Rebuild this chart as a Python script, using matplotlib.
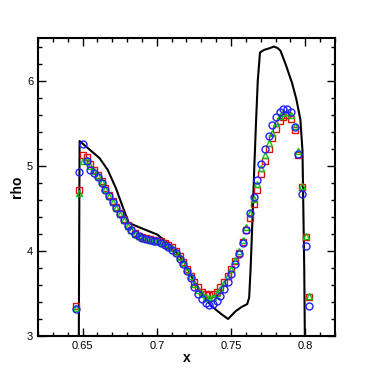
import numpy as np
import matplotlib
matplotlib.use("Agg")
import matplotlib.pyplot as plt
from matplotlib.ticker import MultipleLocator

plt.rcParams['font.family'] = ['Liberation Sans', 'DejaVu Sans']

# reference solution (solid black line)
ref_x = [0.6475, 0.6477, 0.6480, 0.6500, 0.6547, 0.6614, 0.6670, 0.6726, 0.6770,
         0.6810, 0.6850, 0.6905, 0.7005, 0.7073, 0.7140, 0.7185, 0.7252, 0.7319,
         0.7364, 0.7397, 0.7440, 0.7480, 0.7530, 0.7570, 0.7609, 0.7622, 0.7632,
         0.7645, 0.7657, 0.7668, 0.7680, 0.7695, 0.7722, 0.7760, 0.7789, 0.7815,
         0.7833, 0.7870, 0.7911, 0.7940, 0.7967, 0.7981, 0.7993, 0.7997]
ref_rho = [3.00, 4.00, 5.29, 5.26, 5.19, 5.09, 4.95, 4.73, 4.52,
           4.33, 4.30, 4.26, 4.19, 4.09, 3.97, 3.87, 3.64, 3.46,
           3.36, 3.31, 3.25, 3.20, 3.29, 3.34, 3.375, 3.45, 3.80,
           4.40, 5.00, 5.50, 6.00, 6.33, 6.36, 6.38, 6.40, 6.38,
           6.35, 6.18, 5.97, 5.78, 5.54, 5.18, 3.78, 3.00]

# cell centres of the computed solutions
x = [0.6453, 0.6478, 0.6503, 0.6528, 0.6553, 0.6578, 0.6603, 0.6628, 0.6653, 0.6678,
     0.6703, 0.6728, 0.6753, 0.6778, 0.6803, 0.6828, 0.6853, 0.6878, 0.6903, 0.6928,
     0.6953, 0.6978, 0.7003, 0.7028, 0.7053, 0.7078, 0.7103, 0.7128, 0.7153, 0.7178,
     0.7203, 0.7228, 0.7253, 0.7278, 0.7303, 0.7328, 0.7353, 0.7378, 0.7403, 0.7428,
     0.7453, 0.7478, 0.7503, 0.7528, 0.7553, 0.7578, 0.7603, 0.7628, 0.7653, 0.7678,
     0.7703, 0.7728, 0.7753, 0.7778, 0.7803, 0.7828, 0.7853, 0.7878, 0.7903, 0.7928,
     0.7953, 0.7978, 0.8003, 0.8028]

rho_sq = [3.35, 4.72, 5.12, 5.10, 5.02, 4.95, 4.89, 4.82, 4.74, 4.66,
          4.58, 4.51, 4.44, 4.37, 4.30, 4.25, 4.21, 4.18, 4.16, 4.15,
          4.14, 4.13, 4.12, 4.11, 4.09, 4.07, 4.04, 4.00, 3.94, 3.87,
          3.79, 3.71, 3.63, 3.57, 3.52, 3.49, 3.48, 3.49, 3.52, 3.57,
          3.63, 3.71, 3.79, 3.88, 3.98, 4.10, 4.24, 4.39, 4.55, 4.72,
          4.90, 5.06, 5.20, 5.32, 5.43, 5.52, 5.57, 5.59, 5.55, 5.42,
          5.12, 4.75, 4.16, 3.46]

rho_tri = [3.33, 4.68, 5.06, 5.07, 5.00, 4.94, 4.88, 4.81, 4.73, 4.65,
           4.57, 4.50, 4.43, 4.36, 4.29, 4.24, 4.20, 4.17, 4.15, 4.14,
           4.13, 4.12, 4.11, 4.10, 4.08, 4.06, 4.03, 3.99, 3.93, 3.86,
           3.78, 3.70, 3.61, 3.54, 3.49, 3.46, 3.45, 3.46, 3.50, 3.55,
           3.62, 3.70, 3.79, 3.89, 4.00, 4.13, 4.28, 4.44, 4.61, 4.79,
           4.97, 5.13, 5.27, 5.39, 5.50, 5.58, 5.62, 5.63, 5.59, 5.47,
           5.17, 4.76, 4.17, 3.47]

rho_circ = [3.32, 4.93, 5.25, 5.05, 4.95, 4.91, 4.87, 4.80, 4.72, 4.65,
            4.57, 4.50, 4.43, 4.36, 4.29, 4.24, 4.20, 4.17, 4.15, 4.14,
            4.13, 4.12, 4.11, 4.09, 4.07, 4.04, 4.01, 3.97, 3.91, 3.84,
            3.76, 3.68, 3.58, 3.49, 3.43, 3.39, 3.36, 3.37, 3.41, 3.47,
            3.55, 3.64, 3.73, 3.84, 3.96, 4.09, 4.25, 4.44, 4.63, 4.83,
            5.02, 5.20, 5.35, 5.48, 5.57, 5.63, 5.67, 5.67, 5.63, 5.46,
            5.14, 4.67, 4.06, 3.35]

fig = plt.figure(figsize=(3.74, 3.74), dpi=100)
ax = fig.add_axes([0.1016, 0.1016, 0.7941, 0.7968])

ax.plot(ref_x, ref_rho, color="black", lw=1.5, zorder=2)
ax.plot(x, rho_sq, ls="none", marker="s", ms=4.3, mfc="none", mec="#e01010", mew=1.0, zorder=3)
ax.plot(x, rho_tri, ls="none", marker="^", ms=4.5, mfc="none", mec="#10c010", mew=1.0, zorder=4)
ax.plot(x, rho_circ, ls="none", marker="o", ms=5, mfc="none", mec="#2020ff", mew=1.0, zorder=5)

ax.set_xlim(0.62, 0.82)
ax.set_ylim(3, 6.5)
ax.xaxis.set_major_locator(MultipleLocator(0.05))
ax.xaxis.set_minor_locator(MultipleLocator(0.01))
ax.yaxis.set_major_locator(MultipleLocator(1))
ax.yaxis.set_minor_locator(MultipleLocator(0.2))
ax.set_xticks([0.65, 0.7, 0.75, 0.8])
ax.set_xticklabels(["0.65", "0.7", "0.75", "0.8"])
ax.set_yticks([3, 4, 5, 6])
ax.set_yticklabels(["3", "4", "5", "6"])

ax.tick_params(which="both", direction="in", top=True, right=True, labelsize=8, width=1.0)
ax.tick_params(which="major", length=6, pad=3.5)
ax.tick_params(which="minor", length=3)
for s in ax.spines.values():
    s.set_linewidth(1.5)

ax.set_xlabel("x", fontsize=10, fontweight="bold", labelpad=0)
ax.set_ylabel("rho", fontsize=10, fontweight="bold", labelpad=2)

plt.savefig("out.png", dpi=100)
